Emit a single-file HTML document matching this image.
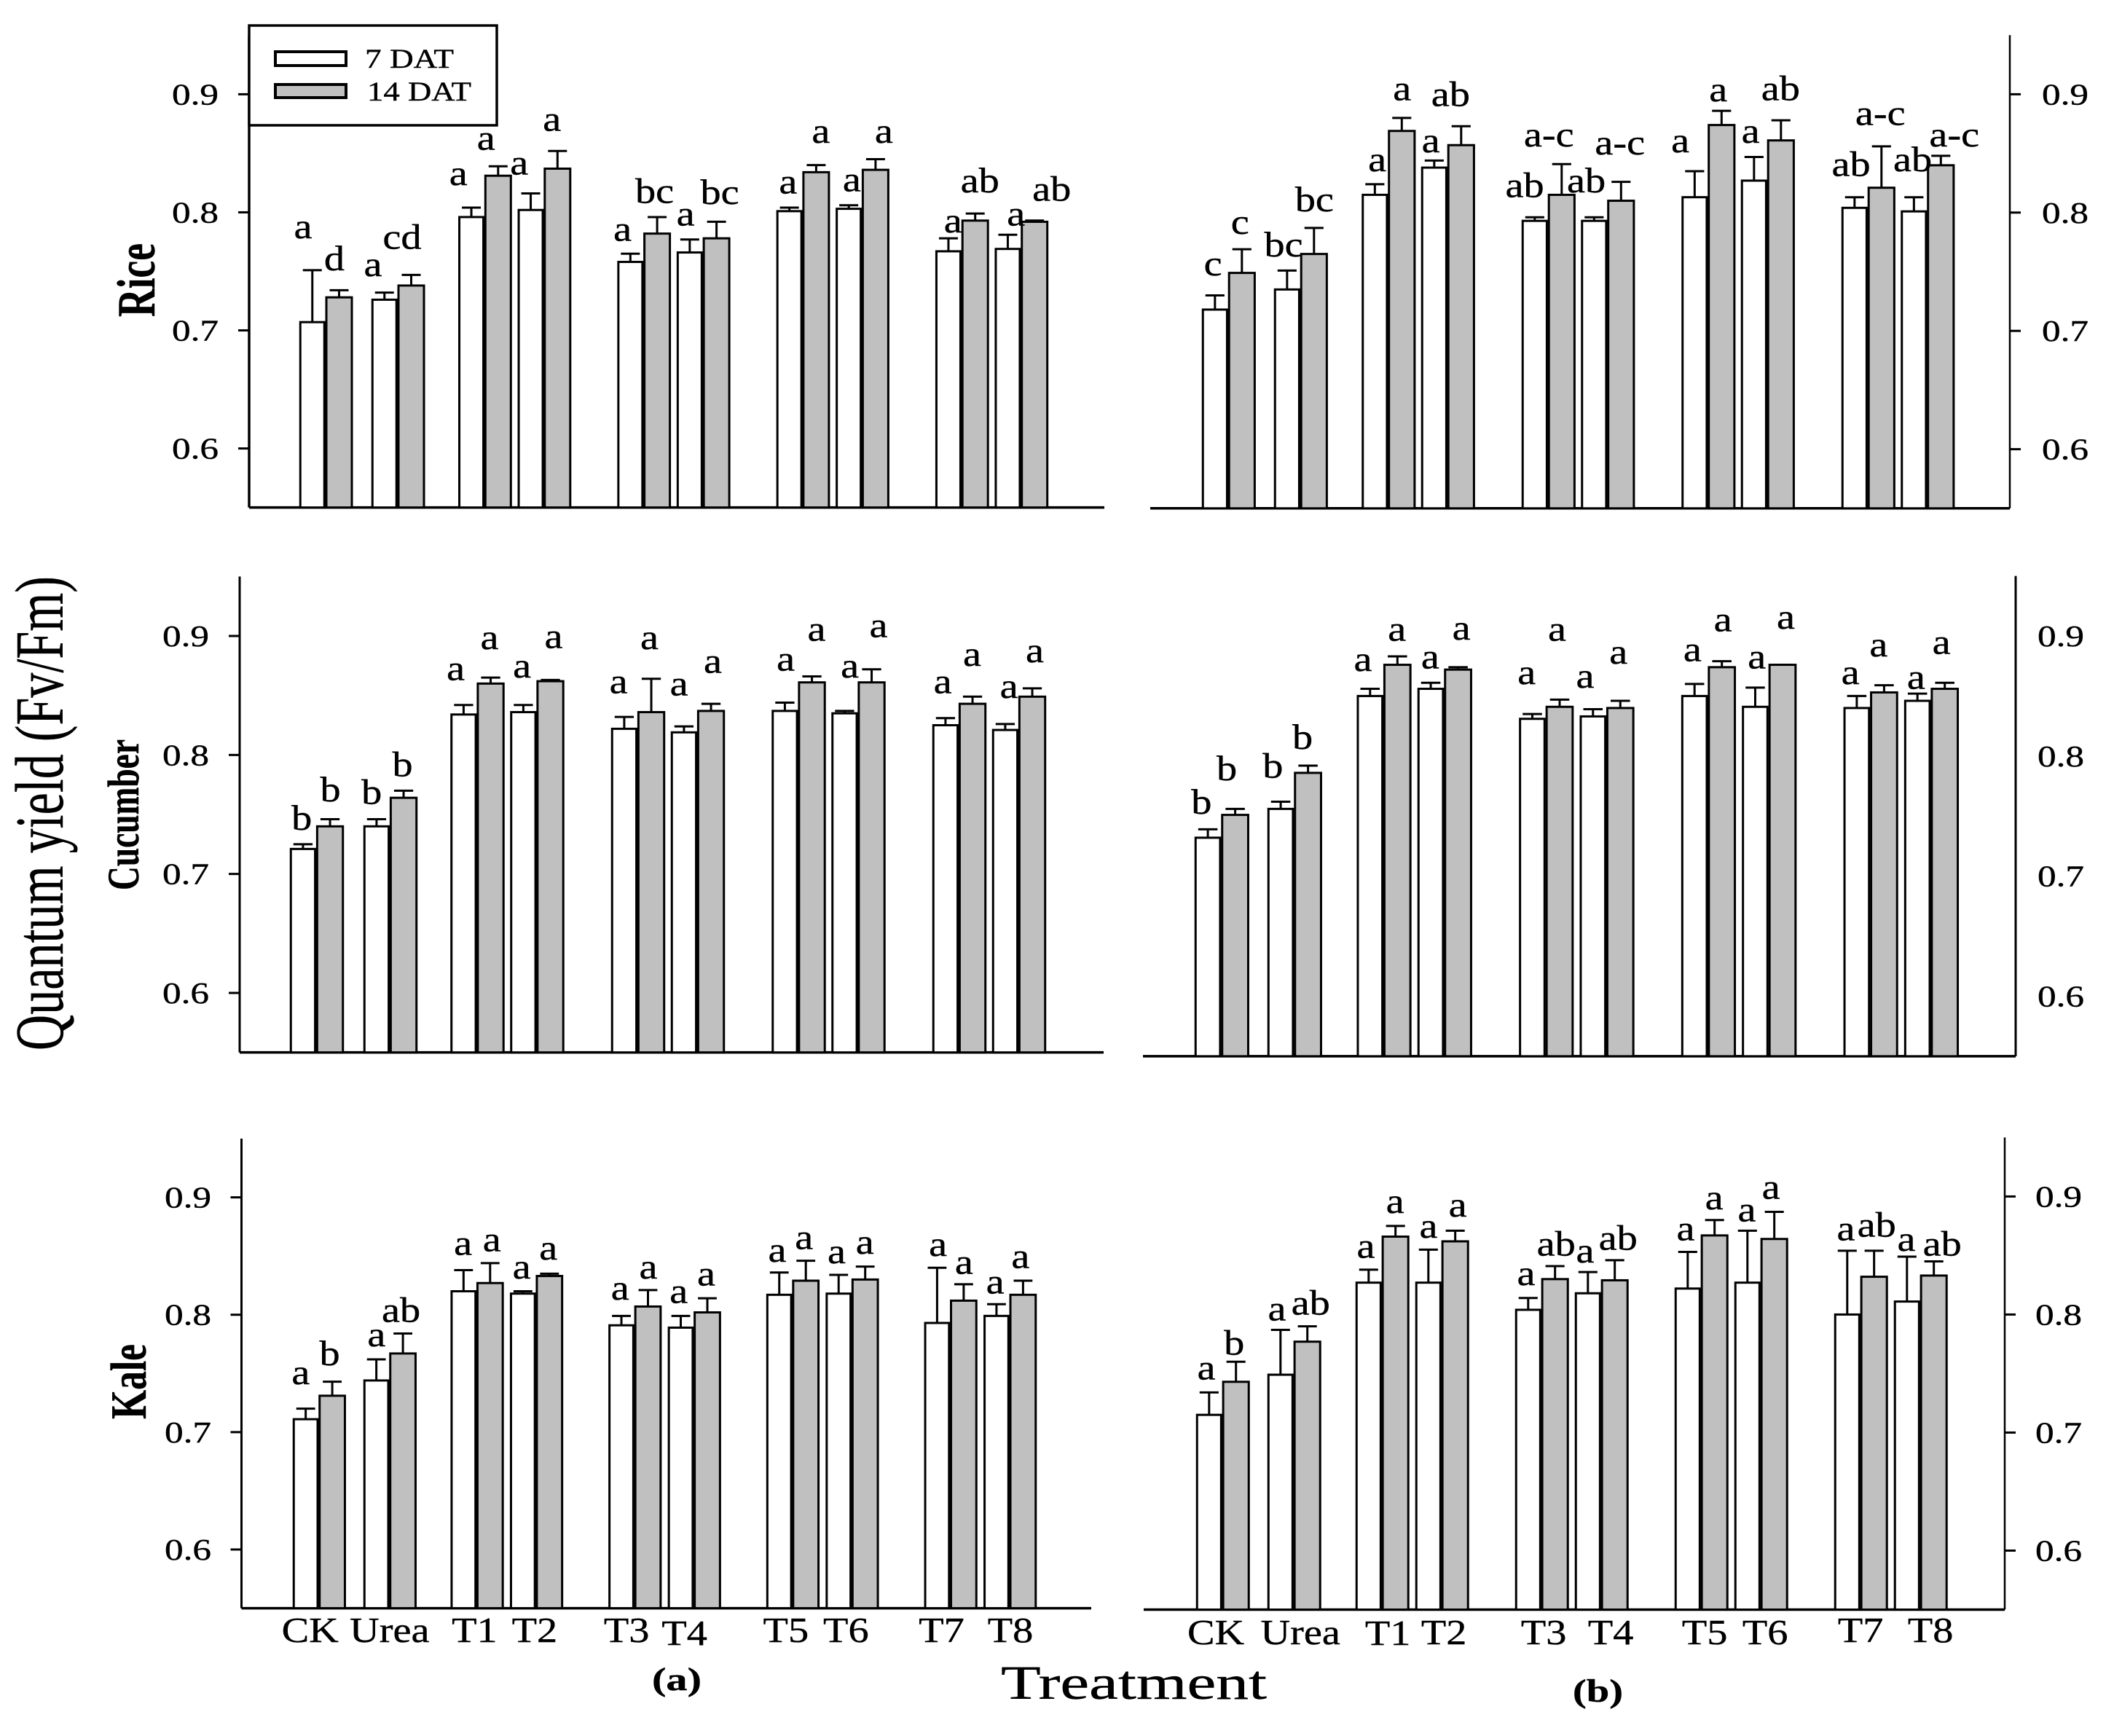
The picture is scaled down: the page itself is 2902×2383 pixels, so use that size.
<!DOCTYPE html>
<html lang="en">
<head>
<meta charset="utf-8">
<title>Quantum yield (Fv/Fm) by treatment</title>
<style>
html,body{margin:0;padding:0;background:#fff;}
svg{display:block;}
text{font-family:"Liberation Serif",serif;fill:#000;stroke:#000;stroke-width:0.4px;}
</style>
</head>
<body>
<svg id="chart" xmlns="http://www.w3.org/2000/svg" width="2902" height="2383" viewBox="0 0 2902 2383">
  <rect x="0" y="0" width="2902" height="2383" fill="#fff"/>
  <g id="panels"></g>

  <text transform="translate(86,1442) rotate(-90)" font-size="94" textLength="651" lengthAdjust="spacingAndGlyphs">Quantum yield (Fv/Fm)</text>
  <text transform="translate(212,435) rotate(-90)" font-size="74" font-weight="bold" textLength="101" lengthAdjust="spacingAndGlyphs">Rice</text>
  <text transform="translate(190,1222) rotate(-90)" font-size="61" font-weight="bold" textLength="207" lengthAdjust="spacingAndGlyphs">Cucumber</text>
  <text transform="translate(200,1948) rotate(-90)" font-size="70" font-weight="bold" textLength="103" lengthAdjust="spacingAndGlyphs">Kale</text>

  <text x="1374" y="2332" font-size="66" textLength="365" lengthAdjust="spacingAndGlyphs">Treatment</text>
  <text x="895" y="2320" font-size="44" font-weight="bold" textLength="68" lengthAdjust="spacingAndGlyphs">(a)</text>
  <text x="2159" y="2336" font-size="44" font-weight="bold" textLength="69" lengthAdjust="spacingAndGlyphs">(b)</text>

  <g>
    <rect x="342" y="35" width="340" height="137" fill="#fff" stroke="#000" stroke-width="3.5"/>
    <rect x="378" y="71" width="97" height="19" fill="#fff" stroke="#000" stroke-width="4"/>
    <text x="501" y="93" font-size="37" textLength="122" lengthAdjust="spacingAndGlyphs">7 DAT</text>
    <rect x="378" y="116" width="97" height="18" fill="#c0c0c0" stroke="#000" stroke-width="4"/>
    <text x="504" y="138" font-size="37" textLength="143" lengthAdjust="spacingAndGlyphs">14 DAT</text>
  </g>
</svg>

<script>
// ---- Shared categories and axis labels ----
var categories = ['CK', 'Urea', 'T1', 'T2', 'T3', 'T4', 'T5', 'T6', 'T7', 'T8'];
var yTickValues = [0.9, 0.8, 0.7, 0.6];
var yTickLabels = ['0.9', '0.8', '0.7', '0.6'];

// ---- Rice, column (a) ----
var riceA7 = [0.707, 0.726, 0.796, 0.802, 0.758, 0.766, 0.801, 0.803, 0.767, 0.769];
var riceA7Err = [0.044, 0.006, 0.008, 0.014, 0.007, 0.011, 0.003, 0.003, 0.011, 0.012];
var riceA14 = [0.728, 0.738, 0.831, 0.837, 0.782, 0.778, 0.834, 0.836, 0.793, 0.792];
var riceA14Err = [0.006, 0.009, 0.008, 0.015, 0.014, 0.014, 0.006, 0.009, 0.006, 0.001];
var riceA7Letters = ['a', 'a', 'a', 'a', 'a', 'a', 'a', 'a', 'a', 'a'];
var riceA14Letters = ['d', 'cd', 'a', 'a', 'bc', 'bc', 'a', 'a', 'ab', 'ab'];
var riceA7LetterLevel = [0.778, 0.746, 0.823, 0.832, 0.776, 0.789, 0.816, 0.818, 0.783, 0.789];
var riceA14LetterLevel = [0.751, 0.769, 0.853, 0.869, 0.808, 0.807, 0.859, 0.859, 0.817, 0.810];

// ---- Rice, column (b) ----
var riceB7 = [0.718, 0.735, 0.815, 0.838, 0.793, 0.793, 0.813, 0.827, 0.804, 0.801];
var riceB7Err = [0.012, 0.016, 0.009, 0.006, 0.003, 0.003, 0.022, 0.020, 0.009, 0.012];
var riceB14 = [0.749, 0.765, 0.869, 0.857, 0.815, 0.810, 0.874, 0.861, 0.821, 0.840];
var riceB14Err = [0.020, 0.022, 0.011, 0.016, 0.026, 0.016, 0.012, 0.017, 0.035, 0.008];
var riceB7Letters = ['c', 'bc', 'a', 'a', 'ab', 'ab', 'a', 'a', 'ab', 'ab'];
var riceB14Letters = ['c', 'bc', 'a', 'ab', 'a-c', 'a-c', 'a', 'ab', 'a-c', 'a-c'];
var riceB7LetterLevel = [0.747, 0.763, 0.835, 0.851, 0.813, 0.817, 0.851, 0.859, 0.831, 0.835];
var riceB14LetterLevel = [0.782, 0.801, 0.895, 0.890, 0.856, 0.849, 0.894, 0.895, 0.874, 0.856];

// ---- Cucumber, column (a) ----
var cucumberA7 = [0.721, 0.740, 0.834, 0.836, 0.822, 0.819, 0.837, 0.835, 0.825, 0.821];
var cucumberA7Err = [0.004, 0.006, 0.008, 0.006, 0.010, 0.005, 0.007, 0.002, 0.006, 0.005];
var cucumberA14 = [0.740, 0.764, 0.860, 0.862, 0.836, 0.837, 0.861, 0.861, 0.843, 0.849];
var cucumberA14Err = [0.006, 0.006, 0.005, 0.001, 0.028, 0.006, 0.005, 0.011, 0.006, 0.007];
var cucumberA7Letters = ['b', 'b', 'a', 'a', 'a', 'a', 'a', 'a', 'a', 'a'];
var cucumberA14Letters = ['b', 'b', 'a', 'a', 'a', 'a', 'a', 'a', 'a', 'a'];
var cucumberA7LetterLevel = [0.737, 0.759, 0.863, 0.865, 0.852, 0.850, 0.871, 0.865, 0.852, 0.848];
var cucumberA14LetterLevel = [0.761, 0.782, 0.889, 0.890, 0.889, 0.869, 0.896, 0.899, 0.875, 0.878];

// ---- Cucumber, column (b) ----
var cucumberB7 = [0.732, 0.756, 0.850, 0.856, 0.831, 0.833, 0.850, 0.841, 0.840, 0.846];
var cucumberB7Err = [0.007, 0.006, 0.006, 0.005, 0.004, 0.006, 0.010, 0.016, 0.010, 0.006];
var cucumberB14 = [0.751, 0.786, 0.876, 0.872, 0.841, 0.840, 0.874, 0.876, 0.853, 0.856];
var cucumberB14Err = [0.005, 0.006, 0.007, 0.002, 0.006, 0.006, 0.005, 0, 0.006, 0.005];
var cucumberB7Letters = ['b', 'b', 'a', 'a', 'a', 'a', 'a', 'a', 'a', 'a'];
var cucumberB14Letters = ['b', 'b', 'a', 'a', 'a', 'a', 'a', 'a', 'a', 'a'];
var cucumberB7LetterLevel = [0.752, 0.782, 0.871, 0.873, 0.860, 0.857, 0.879, 0.873, 0.860, 0.856];
var cucumberB14LetterLevel = [0.780, 0.806, 0.896, 0.897, 0.896, 0.877, 0.904, 0.906, 0.883, 0.885];

// ---- Kale, column (a) ----
var kaleA7 = [0.711, 0.744, 0.820, 0.818, 0.791, 0.789, 0.817, 0.818, 0.793, 0.799];
var kaleA7Err = [0.009, 0.018, 0.018, 0.002, 0.008, 0.010, 0.019, 0.016, 0.047, 0.010];
var kaleA14 = [0.731, 0.767, 0.827, 0.833, 0.807, 0.802, 0.829, 0.830, 0.812, 0.817];
var kaleA14Err = [0.012, 0.017, 0.017, 0.002, 0.014, 0.012, 0.017, 0.011, 0.014, 0.012];
var kaleA7Letters = ['a', 'a', 'a', 'a', 'a', 'a', 'a', 'a', 'a', 'a'];
var kaleA14Letters = ['b', 'ab', 'a', 'a', 'a', 'a', 'a', 'a', 'a', 'a'];
var kaleA7LetterLevel = [0.741, 0.773, 0.851, 0.831, 0.813, 0.810, 0.845, 0.844, 0.850, 0.818];
var kaleA14LetterLevel = [0.757, 0.794, 0.854, 0.847, 0.831, 0.825, 0.856, 0.852, 0.835, 0.840];

// ---- Kale, column (b) ----
var kaleB7 = [0.715, 0.749, 0.827, 0.827, 0.804, 0.818, 0.822, 0.827, 0.800, 0.811];
var kaleB7Err = [0.019, 0.038, 0.011, 0.028, 0.010, 0.018, 0.031, 0.044, 0.054, 0.038];
var kaleB14 = [0.743, 0.777, 0.866, 0.862, 0.830, 0.829, 0.867, 0.864, 0.832, 0.833];
var kaleB14Err = [0.017, 0.013, 0.009, 0.009, 0.011, 0.017, 0.013, 0.023, 0.022, 0.012];
var kaleB7Letters = ['a', 'a', 'a', 'a', 'a', 'a', 'a', 'a', 'a', 'a'];
var kaleB14Letters = ['b', 'ab', 'a', 'a', 'ab', 'ab', 'a', 'a', 'ab', 'ab'];
var kaleB7LetterLevel = [0.745, 0.795, 0.848, 0.865, 0.825, 0.844, 0.863, 0.879, 0.863, 0.854];
var kaleB14LetterLevel = [0.766, 0.800, 0.886, 0.883, 0.850, 0.855, 0.889, 0.898, 0.866, 0.850];

// ---- Panel layout (frame geometry and hand-placed label nudges, not data) ----
var panelLayouts = [
  { id: 'rice-a', v7: riceA7, e7: riceA7Err, v14: riceA14, e14: riceA14Err,
    l7: riceA7Letters, l14: riceA14Letters, h7: riceA7LetterLevel, h14: riceA14LetterLevel,
    y09: 129.4, y06: 615.6, xStart: 411, pairStep: 218.3, inner: 81.5, firstInner: 99,
    baseFrom: 342, baseTo: 1516, axisX: 342, tickDir: -1, hasTicks: true, tickLabelEnd: 300, axisWidth: 3.5,
    n7: [-12, -15, -17, -15, -10, -5, -1, 5, 7, 12], n14: [-6, -12, -16, -7, -3, 5, 7, 12, 7, 24] },
  { id: 'rice-b', v7: riceB7, e7: riceB7Err, v14: riceB14, e14: riceB14Err,
    l7: riceB7Letters, l14: riceB14Letters, h7: riceB7LetterLevel, h14: riceB14LetterLevel,
    y09: 129.4, y06: 616.6, xStart: 1650, pairStep: 219.5, inner: 81.5, firstInner: 99,
    baseFrom: 1579, baseTo: 2759, axisX: 2759, tickDir: 1, hasTicks: true, tickLabelEnd: 2867, axisWidth: 2.5,
    n7: [-2, -4, 4, -4, -13, -10, -19, -4, -4, -1], n14: [-2, 1, 1, -14, -17, -1, -4, 0, -1, 19] },
  { id: 'cucumber-a', v7: cucumberA7, e7: cucumberA7Err, v14: cucumberA14, e14: cucumberA14Err,
    l7: cucumberA7Letters, l14: cucumberA14Letters, h7: cucumberA7LetterLevel, h14: cucumberA14LetterLevel,
    y09: 873, y06: 1363, xStart: 398, pairStep: 220.5, inner: 82, firstInner: 101,
    baseFrom: 329, baseTo: 1515, axisX: 329, tickDir: -1, hasTicks: true, tickLabelEnd: 287, axisWidth: 3,
    n7: [-1, -6, -10, -1, -7, -6, 2, 8, -3, 6], n14: [1, -1, -1, 5, -2, 3, 7, 10, 0, 4] },
  { id: 'cucumber-b', v7: cucumberB7, e7: cucumberB7Err, v14: cucumberB14, e14: cucumberB14Err,
    l7: cucumberB7Letters, l14: cucumberB14Letters, h7: cucumberB7LetterLevel, h14: cucumberB14LetterLevel,
    y09: 873, y06: 1367.5, xStart: 1640, pairStep: 222.7, inner: 83.3, firstInner: 100,
    baseFrom: 1569, baseTo: 2767, axisX: 2767, tickDir: 1, hasTicks: false, tickLabelEnd: 2861, axisWidth: 3,
    n7: [-8, -10, -9, 0, -7, -10, -2, 3, -8, -1], n14: [-11, -7, 0, 5, -3, -2, 2, 5, -7, -4] },
  { id: 'kale-a', v7: kaleA7, e7: kaleA7Err, v14: kaleA14, e14: kaleA14Err,
    l7: kaleA7Letters, l14: kaleA14Letters, h7: kaleA7LetterLevel, h14: kaleA14LetterLevel,
    y09: 1643.6, y06: 2127, xStart: 402, pairStep: 216.7, inner: 81.5, firstInner: 97,
    baseFrom: 331.5, baseTo: 1498, axisX: 331.5, tickDir: -1, hasTicks: true, tickLabelEnd: 290, axisWidth: 3,
    n7: [-6, 1, 0, -1, -1, -2, -2, -2, 2, -1], n14: [-3, -2, 3, -1, 1, -1, -2, 0, 1, -3],
    catNudge: [-12, 0, -3, -2, -11, -13, -9, -8, -12, 1], catDrop: [0, 0, 0, 0, 0, 4, 0, 0, 0, 0], catBaseline: 2254 },
  { id: 'kale-b', v7: kaleB7, e7: kaleB7Err, v14: kaleB14, e14: kaleB14Err,
    l7: kaleB7Letters, l14: kaleB14Letters, h7: kaleB7LetterLevel, h14: kaleB14LetterLevel,
    y09: 1642.4, y06: 2128.5, xStart: 1642, pairStep: 219, inner: 82, firstInner: 98,
    baseFrom: 1570, baseTo: 2752, axisX: 2752, tickDir: 1, hasTicks: true, tickLabelEnd: 2858, axisWidth: 2.5,
    n7: [-3, -4, -3, 1, -2, -3, -2, 0, -1, 0], n14: [-2, 5, 0, 4, 2, 5, 0, -4, 4, 12],
    catNudge: [-9, 9, 8, 3, 3, 13, 5, 6, 0, 14], catDrop: [0, 0, 1, 0, 0, 0, 0, 0, -3, -3], catBaseline: 2257 }
];

var SVG_NS = 'http://www.w3.org/2000/svg';
var root = document.getElementById('panels');

function make(tag, attrs, parent) {
  var el = document.createElementNS(SVG_NS, tag);
  for (var k in attrs) { el.setAttribute(k, attrs[k]); }
  parent.appendChild(el);
  return el;
}

// Value axis: maps a quantum-yield value to a pixel row in this panel.
function yScale(p) {
  var perUnit = (p.y06 - p.y09) / 0.3;
  return function (v) { return p.y09 + (0.9 - v) * perUnit; };
}

// Category axis: left edge of a treatment's bar pair. Treatments come in pairs,
// and the first pair (CK, Urea) is spaced a little wider than the others.
function xScale(p) {
  return function (i) {
    var pair = Math.floor(i / 2);
    var second = i % 2 === 1;
    if (pair === 0) { return p.xStart + (second ? p.firstInner : 0); }
    return p.xStart + pair * p.pairStep + (second ? p.inner : 0);
  };
}

function drawPanel(p) {
  var y = yScale(p);
  var x = xScale(p);
  var unit = p.pairStep / 218.3;
  var base = y(0.55);
  var top = y(0.95);
  var w7 = 33 * unit, off14 = 37 * unit, w14 = 35 * unit, cap = 26 * unit;

  var g = make('g', {}, root);
  
  

  var yAxis = make('line', { x1: p.axisX, x2: p.axisX, y1: top, y2: base, stroke: '#000', 'stroke-width': p.axisWidth }, g);
  
  

  var xAxis = make('line', { x1: p.baseFrom, x2: p.baseTo, y1: base, y2: base, stroke: '#000', 'stroke-width': 3.5 }, g);
  
  

  yTickValues.forEach(function (val, t) {
    var ty = y(val);
    if (p.hasTicks) {
      var tick = make('line', { x1: p.axisX, x2: p.axisX + p.tickDir * 15, y1: ty, y2: ty, stroke: '#000', 'stroke-width': 3 }, g);
      
      
    }
    var lab = make('text', { transform: 'translate(' + p.tickLabelEnd + ',' + (ty + 14) + ') scale(1.25,1)', 'font-size': 41, 'text-anchor': 'end' }, g);
    lab.textContent = yTickLabels[t];
    
    
  });

  categories.forEach(function (cat, i) {
    var left = x(i);
    var c7 = left + 1.25 + w7 / 2;
    var c14 = left + off14 + w14 / 2;

    var err7 = make('path', {
      d: 'M' + c7 + ' ' + y(p.v7[i]) + 'V' + y(p.v7[i] + p.e7[i]) + 'M' + (c7 - cap / 2) + ' ' + y(p.v7[i] + p.e7[i]) + 'H' + (c7 + cap / 2),
      stroke: '#000', 'stroke-width': 3, fill: 'none' }, g);
    
    

    var err14 = make('path', {
      d: 'M' + c14 + ' ' + y(p.v14[i]) + 'V' + y(p.v14[i] + p.e14[i]) + 'M' + (c14 - cap / 2) + ' ' + y(p.v14[i] + p.e14[i]) + 'H' + (c14 + cap / 2),
      stroke: '#000', 'stroke-width': 3, fill: 'none' }, g);
    
    

    var bar7 = make('rect', { x: left + 1.25, y: y(p.v7[i]), width: w7, height: base - y(p.v7[i]), fill: '#fff', stroke: '#000', 'stroke-width': 3 }, g);
    
    

    var bar14 = make('rect', { x: left + off14, y: y(p.v14[i]), width: w14, height: base - y(p.v14[i]), fill: '#c0c0c0', stroke: '#000', 'stroke-width': 3 }, g);
    
    

    var letter7 = make('text', { transform: 'translate(' + (left + 17 * unit + p.n7[i]) + ',' + y(p.h7[i]) + ') scale(1.15,1)', 'font-size': 49, 'text-anchor': 'middle' }, g);
    letter7.textContent = p.l7[i];
    
    

    var letter14 = make('text', { transform: 'translate(' + (left + 54 * unit + p.n14[i]) + ',' + y(p.h14[i]) + ') scale(1.15,1)', 'font-size': 49, 'text-anchor': 'middle' }, g);
    letter14.textContent = p.l14[i];
    
    

    if (p.catNudge) {
      var catLabel = make('text', { transform: 'translate(' + (left + 36 * unit + p.catNudge[i]) + ',' + (p.catBaseline + p.catDrop[i]) + ') scale(1.15,1)', 'font-size': 49, 'text-anchor': 'middle' }, g);
      catLabel.textContent = cat;
      
      
    }
  });
}

panelLayouts.forEach(drawPanel);
</script>
</body>
</html>
